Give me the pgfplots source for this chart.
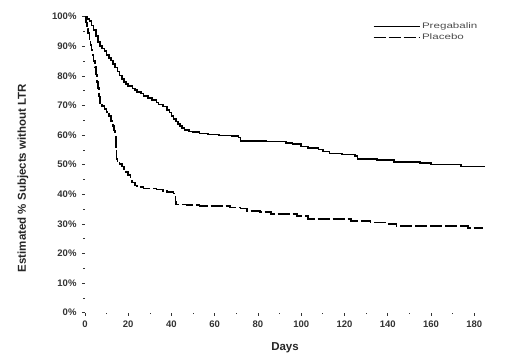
\documentclass[border=0pt]{standalone}
\usepackage{fontspec}
\setmainfont{Liberation Sans}
\newfontfamily\legfont[FakeStretch=1.45]{Liberation Sans}
\usepackage{pgfplots}
\pgfplotsset{compat=1.18}
\usepackage{pgfplotstable}

\pgfplotstableread{
day surv
0 100
1 99.3
2 98.5
3 97
4 95.5
5 93.5
6 91.5
7 90
8 89.3
9 88.4
10 87
11 86
12 85.2
13 84
14 82.8
15 81.5
16 80.2
17 79
18 78
19 77.2
20 76.5
22 75.8
23 75.2
24 74.6
26 74
27 73.3
29 72.6
31 71.8
33 71
34 70.3
36 69.6
38 68.5
39 67.6
40 66.5
41 65.5
42 64.6
43 63.7
44 63
45 62.3
46 61.7
48 61.2
50 61
53 60.6
57 60.2
62 59.8
68 59.6
71 59.2
72 58
84 57.8
93 57.4
96 57
100 56.2
103 55.6
108 55.2
110 54.4
113 53.8
119 53.5
125 53
126 52
135 51.6
143 51
155 50.5
160 50
174 49.4
185 49.4
}\pregabalin

\pgfplotstableread{
day surv
0 100
0.5 98
1 96
1.5 94.5
2 92.5
2.5 90.5
3 88.7
3.5 87
4 85
4.6 83
5 80.5
5.5 78
6 76
6.5 73
7 70.7
8 69.8
9 68.8
10 67.8
11 66.5
12 64.8
13 63
13.5 61.5
14 60.5
14.3 55
14.6 52
15 51.2
16 50.3
17 49.4
18 48.5
19 47.5
20 46.5
21 45
21.7 44
23 43
24 42.5
27 42
33 41.6
36 41.2
38 40.7
41 40.3
41.8 37.5
42 36.6
47 36.3
53 36
67 35.6
72 35.2
75 34.3
81 34
86 33.3
98 32.6
103 31.6
123 31
132 30.5
140 30
144 29.2
177 28.6
184 28.6
}\placebo

\begin{document}
\begin{tikzpicture}
\useasboundingbox (-85pt,-46pt) rectangle (435pt,312.7pt);
\begin{axis}[
  scale only axis,
  width=400pt, height=296pt,
  xmin=0, xmax=185, ymin=0, ymax=100,
  axis line style={draw=none},
  xtick={0,20,...,180},
  minor xtick={10,30,...,170},
  ytick={0,10,...,100},
  minor ytick={5,15,...,95},
  yticklabel={\pgfmathprintnumber{\tick}\%},
  tick align=outside,
  major tick length=3pt,
  minor tick length=1.5pt,
  tick style={black!80, line width=0.7pt},
  xtick pos=bottom, ytick pos=left,
  /pgf/number format/assume math mode=true,
  ticklabel style={font=\bfseries\fontsize{9.5}{10}\selectfont, text=black!80},
  yticklabel style={xshift=-2pt},
  xticklabel style={yshift=-2pt},
  xlabel={\bfseries Days},
  ylabel={\bfseries Estimated \% Subjects without LTR},
  label style={font=\fontsize{11.5}{12}\selectfont, text=black!85},
  xlabel style={at={(axis description cs:0.5,-0.118)}, anchor=center},
  ylabel style={at={(axis description cs:-0.155,0.455)}, anchor=center},
  legend style={at={(rel axis cs:0.712,0.995)}, anchor=north west, draw=none, fill=none,
    font=\legfont\fontsize{8}{9}\selectfont, text=black!70, row sep=0pt,
    legend cell align=left},
  legend image code/.code={\draw[#1, line width=1pt] (0pt,0pt) -- (46pt,0pt);},
]
\addplot[const plot, black, line width=1.6pt] table[x=day,y=surv] {\pregabalin};
\addlegendentry{Pregabalin}
\addplot[const plot, black, line width=1.6pt, dash pattern=on 12pt off 3pt] table[x=day,y=surv] {\placebo};
\addlegendentry{Placebo}
\end{axis}
\end{tikzpicture}
\end{document}
